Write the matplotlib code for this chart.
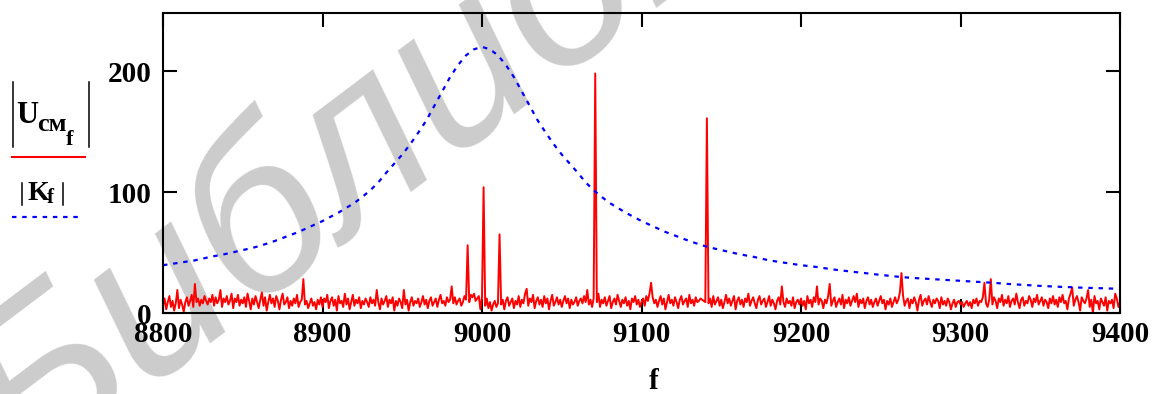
import numpy as np
import matplotlib
matplotlib.use('Agg')
import matplotlib.pyplot as plt
from matplotlib.lines import Line2D

# spectrum of the mixed signal |U_см(f)|, 1 Hz step from 8800 to 9400
f0 = 8800
u_cm = [
    6, 12, 3, 9, 14, 5, 10, 2, 8, 19, 4, 11, 7, 1, 9, 13, 6, 10, 15, 5,
    24, 9, 12, 6, 11, 8, 14, 10, 7, 12, 9, 15, 6, 13, 8, 11, 19, 5, 12, 9,
    14, 7, 10, 16, 4, 12, 9, 15, 6, 11,
    8, 13, 5, 16, 10, 3, 12, 7, 14, 9, 4, 11, 17, 6, 13, 2, 9, 15, 8, 12,
    5, 14, 10, 3, 11, 16, 7, 9, 13, 4, 10, 6, 12, 8, 15, 5, 9, 11, 28, 7,
    10, 4, 8, 12, 6, 9, 3, 11, 7, 13,
    5, 12, 9, 15, 4, 10, 13, 6, 11, 2, 14, 8, 10, 5, 16, 7, 12, 3, 9, 15,
    6, 11, 8, 13, 4, 10, 7, 12, 9, 5, 13, 8, 11, 6, 19, 9, 3, 12, 7, 10,
    14, 5, 11, 8, 13, 2, 10, 6, 12, 9,
    4, 19, 7, 11, 2, 9, 13, 6, 10, 8, 12, 5, 9, 14, 7, 11, 4, 10, 13, 6,
    9, 12, 5, 11, 15, 8, 10, 6, 13, 9, 11, 22, 8, 13, 7, 10, 12, 6, 9, 14,
    11, 56, 9, 15, 13, 16, 10, 12, 14, 3,
    13, 104, 6, 12, 4, 9, 2, 7, 10, 5, 8, 65, 7, 11, 3, 10, 13, 6, 9, 12,
    4, 10, 7, 14, 5, 11, 8, 16, 20, 6, 12, 9, 15, 4, 10, 13, 7, 11, 5, 14,
    8, 12, 3, 10, 15, 6, 9, 13, 7, 11,
    5, 10, 14, 8, 12, 4, 11, 7, 9, 13, 6, 10, 12, 8, 14, 9, 19, 7, 11, 5,
    12, 198, 9, 16, 5, 11, 8, 13, 6, 10, 14, 4, 9, 12, 7, 15, 10, 5, 11, 8,
    13, 6, 10, 3, 12, 9, 14, 7, 11, 5,
    9, 12, 6, 14, 10, 16, 25, 13, 8, 11, 5, 10, 14, 7, 12, 3, 9, 15, 8, 11,
    6, 13, 9, 4, 11, 14, 7, 10, 12, 5, 15, 8, 11, 6, 13, 9, 10, 12, 11, 10,
    9, 161, 8, 12, 5, 14, 7, 10, 13, 6,
    11, 4, 9, 15, 8, 12, 6, 10, 14, 3, 10, 13, 7, 11, 5, 12, 9, 16, 6, 10,
    13, 8, 4, 11, 14, 7, 10, 12, 5, 9, 14, 6, 11, 8, 3, 10, 13, 7, 22, 9,
    5, 12, 8, 10, 6, 13, 4, 9, 11, 7,
    12, 6, 10, 3, 14, 8, 11, 5, 13, 9, 22, 7, 12, 10, 4, 11, 8, 14, 24, 6,
    10, 13, 5, 9, 12, 7, 15, 4, 11, 8, 13, 6, 10, 14, 9, 16, 5, 11, 8, 12,
    4, 10, 13, 7, 11, 5, 9, 12, 6, 10,
    14, 8, 11, 3, 10, 7, 12, 5, 9, 13, 8, 11, 17, 33, 14, 6, 10, 12, 4, 11,
    8, 13, 9, 2, 11, 15, 6, 10, 12, 7, 14, 9, 5, 11, 8, 12, 10, 4, 13, 7,
    10, 6, 12, 9, 3, 8, 11, 5, 9, 10,
    7, 9, 5, 8, 10, 6, 9, 4, 11, 8, 12, 6, 10, 9, 13, 25, 8, 5, 11, 28,
    7, 13, 10, 4, 12, 9, 15, 6, 11, 8, 14, 5, 10, 12, 7, 16, 9, 4, 11, 13,
    6, 10, 8, 14, 11, 5, 12, 9, 15, 7,
    10, 13, 6, 11, 9, 4, 12, 8, 14, 7, 11, 5, 13, 9, 15, 8, 10, 3, 12, 16,
    21, 6, 11, 14, 9, 2, 13, 10, 8, 12, 19, 5, 11, 0, 14, 8, 10, 3, 12, 9,
    6, 13, 2, 10, 8, 11, 4, 16, 12, 5,
    9,
]
f_u = np.arange(f0, f0 + len(u_cm))

# |K(f)| of the resonant circuit, 5 Hz step
f_k = np.arange(8800, 9401, 5)
k_f = [
    39.5, 40.5, 41.5, 42.5, 43.5, 45, 46.5, 47.7, 49, 50.5,
    52, 53.5, 55.2, 57.3, 59.5, 62, 64.5, 67, 70, 73,
    76, 79.5, 83, 87, 91, 96, 101.5, 108, 116, 123.5,
    131, 139.5, 149, 159, 171, 183, 195, 205, 213, 218,
    220,
    218, 213, 205, 195, 183, 171, 159, 149, 139.5, 131,
    123.5, 116, 108, 101.5, 96, 91, 87, 83, 79.5, 76,
    73, 70, 67, 64.5, 62, 59.5, 57.3, 55.2, 53.5, 52,
    50.5, 49, 47.7, 46.5, 45, 43.5, 42.5, 41.5, 40.5, 39.5,
    38.8, 38, 37, 36, 35.2, 34.5, 33.7, 33, 32.2, 31.5,
    30.8, 30.1, 29.5, 29, 28.6, 28.2, 27.8, 27.4, 27, 26.6,
    26.2, 25.8, 25.4, 25, 24.5, 24, 23.6, 23.2, 22.8, 22.4,
    22.1, 21.8, 21.5, 21.3, 21, 20.8, 20.6, 20.4, 20.2, 20,
]

W, H = 1163, 394
fig = plt.figure(figsize=(W / 100, H / 100), dpi=100)
serif = ['Liberation Serif', 'DejaVu Serif']
dash = (2.0, 2.6)


def px(x, y):
    return x / W, 1 - y / H


# grey watermark behind everything
fig.text(*px(26, 477), 'Библиотека', rotation=37, rotation_mode='anchor',
         ha='left', va='baseline', fontsize=165, color='#cccccc',
         family=['Liberation Sans', 'DejaVu Sans'], style='italic', zorder=-5)

ax = fig.add_axes([163 / W, (H - 313) / H, (1120 - 163) / W, (313 - 13) / H])
ax.set_facecolor('none')

ax.plot(f_u, u_cm, color='#ff0000', lw=1.4)
ax.plot(f_k, k_f, color='#0000ff', lw=1.6, dashes=dash)

ax.set_xlim(8800, 9400)
ax.set_ylim(0, 248)
ax.set_xticks(np.arange(8800, 9401, 100))
ax.set_yticks([0, 100, 200])

for s in ax.spines.values():
    s.set_linewidth(1.5)
ax.tick_params(direction='in', length=10, width=1.5, top=True, right=True,
               labelsize=21)
ax.tick_params(axis='x', pad=6)
ax.tick_params(axis='y', pad=8)
for lab in ax.get_xticklabels() + ax.get_yticklabels():
    lab.set_fontfamily(serif)
    lab.set_fontweight('bold')

fig.text(*px(654, 389), 'f', fontsize=21, fontweight='bold', family=serif,
         ha='center', va='baseline')

# stacked y-axis label with line samples
def bar(x, y1, y2):
    fig.add_artist(Line2D([x / W, x / W], [1 - y1 / H, 1 - y2 / H],
                          color='black', lw=1.1))


bar(12.5, 82, 147)
bar(89, 82, 147)
fig.text(*px(16, 123), 'U', fontsize=22, fontweight='bold', family=serif)
fig.text(*px(37, 131), 'см', fontsize=19, fontweight='bold', family=serif)
fig.text(*px(66, 145), 'f', fontsize=16, fontweight='bold', family=serif)
fig.add_artist(Line2D([12 / W, 85 / W], [1 - 157 / H] * 2,
                      color='#ff0000', lw=1.5))

bar(22, 183, 205)
bar(63, 183, 205)
fig.text(*px(27, 200), 'K', fontsize=20, fontweight='bold', family=serif)
fig.text(*px(47, 203), 'f', fontsize=15, fontweight='bold', family=serif)
fig.add_artist(Line2D([12 / W, 82 / W], [1 - 217 / H] * 2,
                      color='#0000ff', lw=1.6, dashes=dash))

fig.savefig('out.png', dpi=100)
